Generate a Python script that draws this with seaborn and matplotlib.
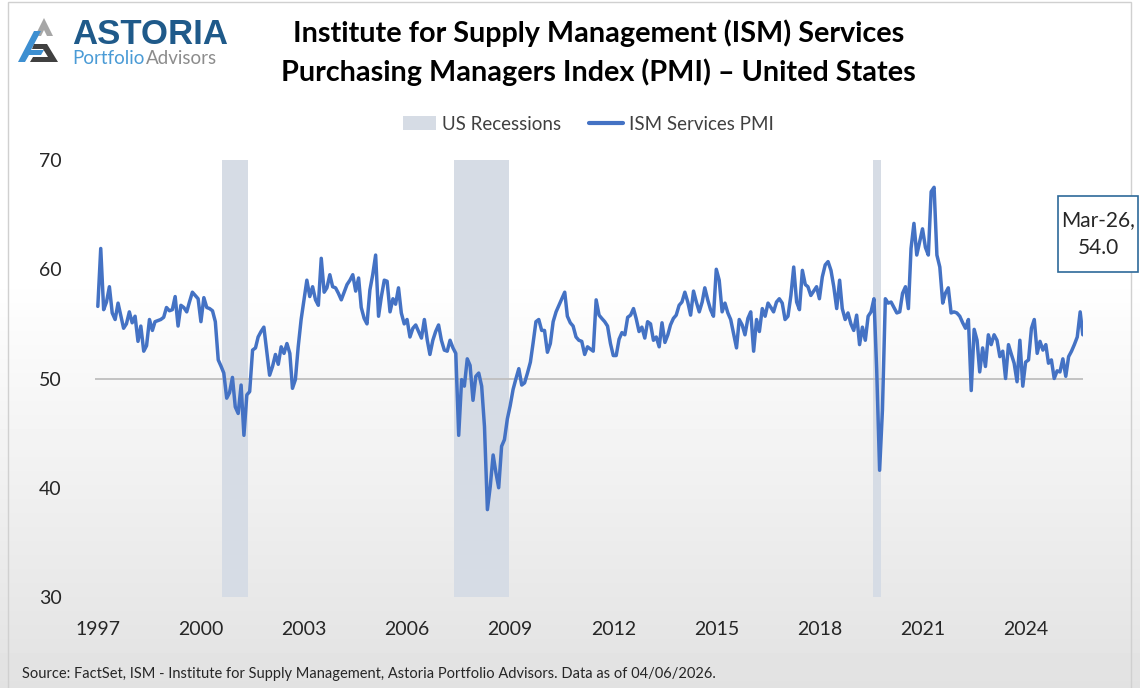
import numpy as np
import pandas as pd
import matplotlib
matplotlib.use("Agg")
import matplotlib.pyplot as plt
import seaborn as sns
from matplotlib import font_manager
from matplotlib.patches import Patch, Rectangle, Polygon
from matplotlib.lines import Line2D

# ISM Services PMI, monthly, Jul 1997 - Mar 2026
pmi_1997_2001 = [
    56.6, 61.9, 56.3, 57.0, 58.4, 56.0,
    55.4, 56.9, 55.8, 54.6, 55.0, 56.1, 55.1, 55.7, 53.4, 54.8, 52.5, 53.0,
    55.4, 54.4, 55.2, 55.3, 55.4, 55.6, 56.5, 56.2, 56.3, 57.5, 54.8, 56.7,
    56.5, 56.1, 57.0, 57.9, 57.6, 57.3, 55.2, 57.4, 56.5, 56.4, 56.2, 55.2,
    51.7, 51.1, 50.5, 48.2, 48.7, 50.1, 47.4, 46.8, 49.4, 44.8, 48.5, 48.8,
]
pmi_2002_2006 = [
    52.6, 52.8, 53.8, 54.3, 54.7, 52.5, 50.3, 51.1, 52.2, 51.3, 52.9, 52.3,
    53.2, 52.3, 49.1, 49.9, 52.9, 55.4, 57.2, 59.0, 57.5, 58.4, 57.2, 56.7,
    61.0, 57.9, 58.3, 59.5, 58.4, 58.3, 57.8, 57.2, 57.9, 58.6, 59.0, 59.5,
    58.0, 59.2, 56.5, 55.5, 55.0, 58.1, 59.5, 61.3, 55.7, 57.5, 59.0, 58.9,
    56.1, 57.3, 56.8, 58.3, 56.0, 55.0, 55.4, 53.8, 54.6, 54.9, 54.3, 53.7,
]
pmi_2007_2011 = [
    55.4, 53.5, 52.2, 53.5, 54.3, 54.9, 53.5, 52.6, 52.5, 53.5, 52.8, 52.3,
    44.8, 49.9, 49.3, 51.8, 51.2, 48.0, 50.2, 50.5, 49.3, 45.6, 38.0, 40.1,
    43.0, 41.3, 40.0, 43.8, 44.4, 46.3, 47.5, 49.0, 50.0, 50.9, 49.4, 49.6,
    50.5, 51.5, 53.2, 55.2, 55.4, 54.4, 54.4, 52.4, 53.2, 55.2, 56.1, 56.7,
    57.3, 57.9, 55.7, 55.1, 54.8, 53.8, 53.5, 53.4, 52.2, 52.9, 52.7, 52.5,
]
pmi_2012_2016 = [
    57.2, 55.8, 55.5, 55.2, 54.8, 53.2, 52.1, 52.1, 53.6, 54.2, 54.0, 55.6,
    55.8, 56.4, 55.5, 54.3, 54.7, 53.7, 55.2, 55.0, 53.5, 53.8, 52.9, 55.1,
    53.3, 54.0, 54.9, 55.5, 55.8, 56.7, 57.0, 57.9, 57.0, 55.8, 58.0, 57.0,
    56.1, 57.0, 58.3, 57.2, 56.3, 55.7, 60.0, 59.0, 56.1, 56.9, 56.0, 55.4,
    54.1, 52.8, 55.4, 54.9, 54.0, 55.5, 56.1, 52.5, 55.4, 54.3, 56.4, 55.7,
]
pmi_2017_2021 = [
    56.9, 56.5, 56.1, 57.0, 57.3, 56.9, 55.4, 55.7, 57.6, 60.2, 57.0, 56.3,
    59.9, 58.6, 58.4, 57.6, 58.0, 58.4, 57.3, 59.3, 60.4, 60.7, 59.9, 58.4,
    56.4, 59.0, 56.4, 55.4, 56.0, 55.0, 54.4, 55.8, 53.1, 54.7, 53.5, 55.7,
    56.1, 57.3, 50.8, 41.6, 47.1, 57.3, 56.9, 57.0, 56.5, 56.0, 56.1, 57.8,
    58.4, 56.4, 61.9, 64.2, 61.3, 62.5, 63.7, 62.0, 61.3, 67.1, 67.5, 61.3,
]
pmi_2022_2026 = [
    60.2, 56.9, 57.8, 58.3, 56.0, 56.1, 56.0, 55.7, 55.1, 54.6, 55.4, 48.9,
    54.5, 53.5, 50.6, 52.8, 51.1, 54.0, 53.1, 54.0, 53.5, 52.0, 52.5, 50.0,
    53.1, 52.2, 51.4, 49.7, 53.5, 49.3, 51.5, 51.7, 54.6, 55.4, 52.3, 53.4,
    52.6, 53.1, 51.4, 51.7, 50.0, 50.7, 50.6, 51.8, 50.2, 52.0, 52.5, 53.1,
    53.8, 56.1, 54.0,
]

recession_start = ["2001-03-01", "2007-12-01", "2020-02-01"]
recession_end = ["2001-11-01", "2009-06-01", "2020-04-01"]
tick_years = [1997, 2000, 2003, 2006, 2009, 2012, 2015, 2018, 2021, 2024]
y_ticks = [30, 40, 50, 60, 70]

pmi = (pmi_1997_2001 + pmi_2002_2006 + pmi_2007_2011
       + pmi_2012_2016 + pmi_2017_2021 + pmi_2022_2026)
df = pd.DataFrame({
    "date": pd.date_range("1997-07-01", periods=len(pmi), freq="MS"),
    "pmi": pmi,
})

# fonts
sns.set_theme(style="white")
names = {f.name for f in font_manager.fontManager.ttflist}
narrow = "Liberation Sans Narrow" if "Liberation Sans Narrow" in names else "Lato"
plt.rcParams["font.family"] = [narrow, "DejaVu Sans"]

W, H = 1140, 688
fig = plt.figure(figsize=(W / 100, H / 100), dpi=100)


def fx(px):
    return px / W


def fy(py):
    return 1 - py / H


# background gradient (white at top, light grey at bottom)
bg = fig.add_axes([0, 0, 1, 1], zorder=-10)
rows = np.linspace(0, 1, H)
shade = np.where(rows < 0.4, 1.0, 1.0 - (rows - 0.4) / 0.6 * 0.115)
bg.imshow(np.repeat(shade[:, None], 4, axis=1), cmap="gray", vmin=0, vmax=1,
          aspect="auto", extent=[0, 1, 0, 1])
bg.set_xlim(0, 1)
bg.set_ylim(0, 1)
bg.axis("off")
fig.patches.append(Rectangle((fx(8), fy(692)), fx(1123), 690 / H, transform=fig.transFigure,
                             fill=False, edgecolor="#d0d0d0", linewidth=1))

# main plot
ax = fig.add_axes([fx(95), fy(597), fx(1083 - 95), (597 - 160) / H])
ax.set_facecolor("none")
pmi_color = "#4472c4"
rec_color = "#d6dce5"

for s, e in zip(recession_start, recession_end):
    ax.axvspan(pd.Timestamp(s) - pd.Timedelta(days=15), pd.Timestamp(e) + pd.Timedelta(days=15),
               color=rec_color, linewidth=0, zorder=0)
ax.axhline(50, color="#bfbfbf", linewidth=1.3, zorder=1)
sns.lineplot(data=df, x="date", y="pmi", ax=ax, color=pmi_color, linewidth=2.5, zorder=3)

ax.set_xlim(pd.Timestamp("1997-06-01"), pd.Timestamp("2026-03-03"))
ax.set_ylim(30, 70)
ax.set_yticks(y_ticks)
ax.set_yticklabels([str(v) for v in y_ticks], fontsize=14, color="#262626")
ax.set_xticks([pd.Timestamp(f"{y}-07-01") for y in tick_years])
ax.set_xticklabels([str(y) for y in tick_years], fontsize=14, color="#262626")
ax.tick_params(axis="y", length=0, pad=24)
ax.tick_params(axis="x", length=0, pad=17)
ax.set_xlabel("")
ax.set_ylabel("")
for sp in ax.spines.values():
    sp.set_visible(False)
ax.grid(False)

# end-point label
fig.patches.append(Rectangle((fx(1058), fy(272)), fx(80), (272 - 196) / H, transform=fig.transFigure,
                             facecolor="white", edgecolor="#2e6a99", linewidth=1.2, zorder=5))
fig.text(fx(1098), fy(234), "Mar-26,\n54.0", ha="center", va="center", fontsize=15,
         color="#262626", linespacing=1.5, zorder=6)

# titles
fig.text(fx(599), fy(33), "Institute for Supply Management (ISM) Services",
         ha="center", va="center", fontsize=20.7, fontweight="bold", color="black")
fig.text(fx(598), fy(72), "Purchasing Managers Index (PMI) \u2013 United States",
         ha="center", va="center", fontsize=20.7, fontweight="bold", color="black")

# legend
handles = [Patch(facecolor=rec_color, edgecolor="none", label="US Recessions"),
           Line2D([0], [0], color=pmi_color, linewidth=3, label="ISM Services PMI")]
fig.legend(handles=handles, loc="center", bbox_to_anchor=(fx(588), fy(124)), ncol=2,
           frameon=False, fontsize=13.5, handlelength=1.8, handletextpad=0.3,
           columnspacing=1.5, labelcolor="#404040")

# source note
fig.text(fx(22), fy(674), "Source: FactSet, ISM - Institute for Supply Management, Astoria Portfolio "
         "Advisors. Data as of 04/06/2026.", ha="left", va="center", fontsize=10.5, color="#262626")

# logo
fig.text(fx(72), fy(35), "ASTORIA", ha="left", va="center", fontsize=25, fontweight="bold",
         color="#1f5a8a", family=["Liberation Sans", "DejaVu Sans"])
t_port = fig.text(fx(72), fy(59), "Portfolio", ha="left", va="center", fontsize=13.5,
                  color="#4a9bd6", family=["Lato", "DejaVu Sans"])
renderer = fig.canvas.get_renderer()
port_right = t_port.get_window_extent(renderer).x1
fig.text(port_right / W + 0.001, fy(59), "Advisors", ha="left", va="center", fontsize=13.5,
         color="#8c8c8c", family=["Lato", "DejaVu Sans"])


def poly(pts, color):
    fig.patches.append(Polygon([(fx(x), fy(y)) for x, y in pts], closed=True,
                               transform=fig.transFigure, facecolor=color, edgecolor="none"))


poly([(35, 36), (44, 18), (53, 36), (47, 36), (44, 30), (41, 36)], "#a6a6a6")
poly([(18, 62), (34, 31), (41, 31), (31, 50), (44, 50), (41, 55), (29, 55), (25, 62)], "#3d8fd1")
poly([(34, 44), (47, 44), (58, 62), (30, 62), (33, 57), (48, 57), (43, 49), (32, 49)], "#404040")

fig.savefig("out.png", dpi=100)
